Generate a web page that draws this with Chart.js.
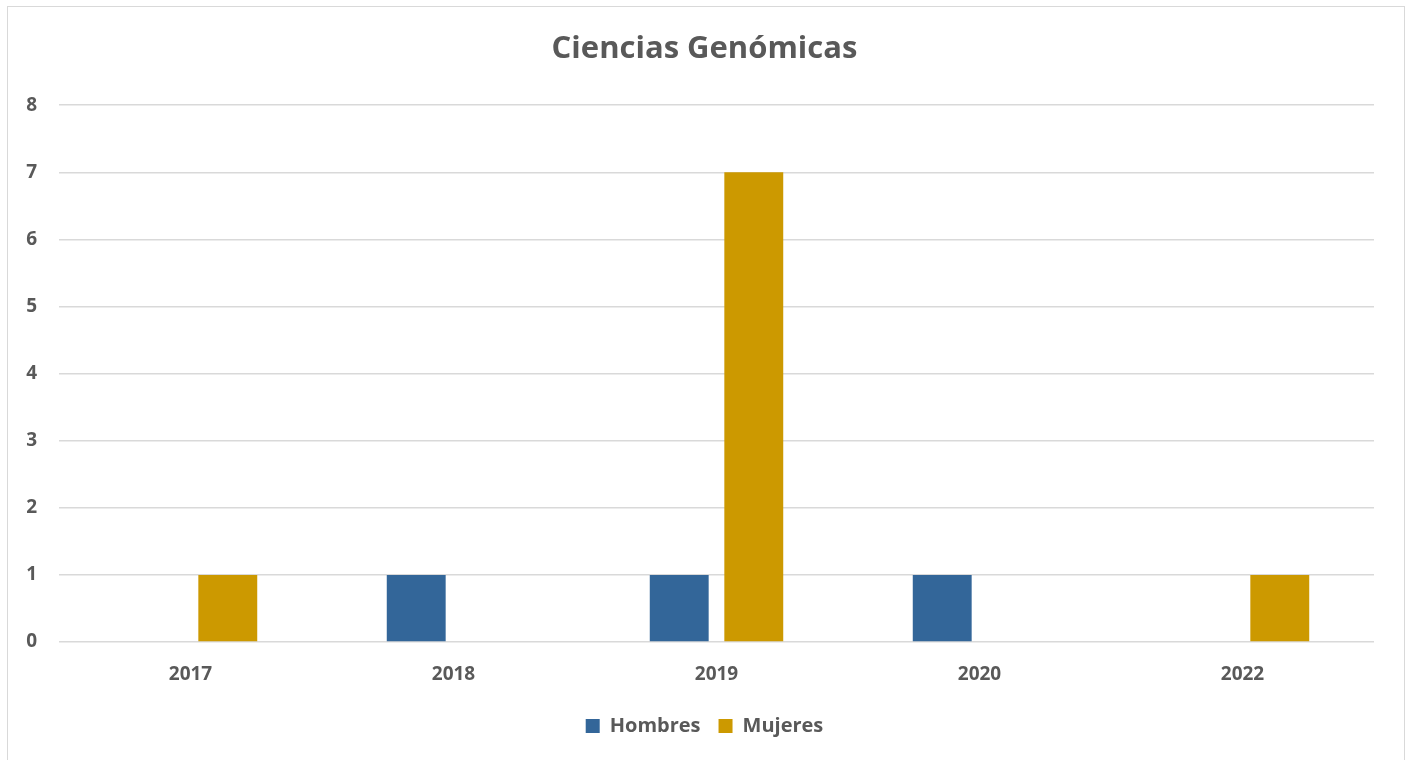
<!DOCTYPE html>
<html lang="es">
<head>
  <meta charset="UTF-8">
  <title>Ciencias Genómicas</title>
  <script src="https://cdn.jsdelivr.net/npm/chart.js"></script>
  <style>
    html, body {
      margin: 0;
      padding: 0;
      background: #ffffff;
      overflow: hidden;
    }

    .frame {
      position: absolute;
      left: 7px;
      top: 6px;
      width: 1396px;
      height: 800px;
      border: 1.5px solid #d9d9d9;
    }

    .wrap {
      position: absolute;
      left: 0;
      top: 0;
      width: 1409px;
      height: 760px;
    }
  </style>
</head>
<body>
  <div class="frame"></div>
  <div class="wrap">
    <canvas id="genomicas"></canvas>
  </div>

  <script>
    const years = ['2017', '2018', '2019', '2020', '2022'];
    const hombres = [0, 1, 1, 1, 0];
    const mujeres = [1, 0, 7, 0, 1];
    const yTicks = [0, 1, 2, 3, 4, 5, 6, 7, 8];

    const grey = '#595959';
    const fontFamily = "'Open Sans', Lato, sans-serif";

    const ctx = document.getElementById('genomicas').getContext('2d');

    new Chart(ctx, {
      type: 'bar',
      data: {
        labels: years,
        datasets: [
          {
            label: 'Hombres',
            data: hombres,
            backgroundColor: '#336699',
            borderWidth: 0,
            categoryPercentage: 0.567,
            barPercentage: 0.79
          },
          {
            label: 'Mujeres',
            data: mujeres,
            backgroundColor: '#cc9900',
            borderWidth: 0,
            categoryPercentage: 0.567,
            barPercentage: 0.79
          }
        ]
      },
      options: {
        responsive: true,
        maintainAspectRatio: false,
        animation: false,
        layout: {
          padding: { left: 0, right: 0, top: 0, bottom: 14 }
        },
        plugins: {
          title: {
            display: true,
            text: 'Ciencias Genómicas',
            color: grey,
            font: { family: fontFamily, size: 31, weight: 'bold', lineHeight: 1.2 },
            padding: { top: 31, bottom: 37 }
          },
          legend: {
            position: 'bottom',
            labels: {
              color: grey,
              font: { family: fontFamily, size: 20, weight: 'bold' },
              boxWidth: 14,
              boxHeight: 14,
              padding: 18
            }
          },
          tooltip: { enabled: false }
        },
        scales: {
          x: {
            grid: { display: false },
            border: { display: false },
            ticks: {
              color: grey,
              font: { family: fontFamily, size: 19, weight: 'bold' },
              padding: 13
            },
            afterFit: axis => { axis.height = 56; }
          },
          y: {
            min: 0,
            max: 8,
            afterBuildTicks: axis => { axis.ticks = yTicks.map(v => ({ value: v })); },
            grid: { color: '#d9d9d9', lineWidth: 1.5, drawTicks: false },
            border: { display: false },
            ticks: {
              color: grey,
              font: { family: fontFamily, size: 19, weight: 'bold' },
              padding: 22
            },
            afterFit: axis => { axis.width = 59; }
          },
          // empty right axis, only keeps the plot off the right edge
          yRight: {
            position: 'right',
            min: 0,
            max: 8,
            grid: { display: false },
            border: { display: false },
            ticks: { display: false },
            afterFit: axis => { axis.width = 35; }
          }
        }
      }
    });
  </script>
</body>
</html>
